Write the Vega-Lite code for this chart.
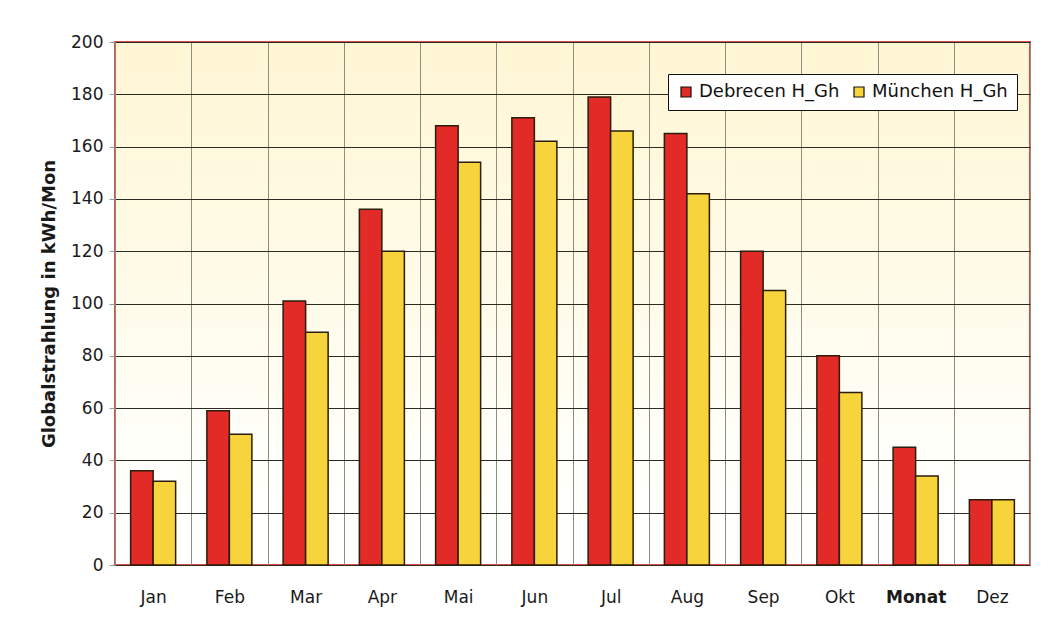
{
  "$schema": "https://vega.github.io/schema/vega-lite/v6.json",
  "width": 915,
  "height": 523,
  "padding": {"top": 33, "left": 40, "right": 8, "bottom": 10},
  "background": "#ffffff",
  "config": {
    "font": "DejaVu Sans",
    "view": {
      "stroke": "#e04a45",
      "strokeWidth": 2,
      "fill": {
        "gradient": "linear",
        "x1": 0, "y1": 0, "x2": 0, "y2": 1,
        "stops": [
          {"offset": 0, "color": "#fff6d4"},
          {"offset": 0.45, "color": "#fffbe8"},
          {"offset": 0.8, "color": "#fffffb"},
          {"offset": 1, "color": "#ffffff"}
        ]
      }
    }
  },
  "data": {
    "values": [
      {"month": "Jan", "series": "Debrecen H_Gh", "value": 36},
      {"month": "Jan", "series": "München H_Gh", "value": 32},
      {"month": "Feb", "series": "Debrecen H_Gh", "value": 59},
      {"month": "Feb", "series": "München H_Gh", "value": 50},
      {"month": "Mar", "series": "Debrecen H_Gh", "value": 101},
      {"month": "Mar", "series": "München H_Gh", "value": 89},
      {"month": "Apr", "series": "Debrecen H_Gh", "value": 136},
      {"month": "Apr", "series": "München H_Gh", "value": 120},
      {"month": "Mai", "series": "Debrecen H_Gh", "value": 168},
      {"month": "Mai", "series": "München H_Gh", "value": 154},
      {"month": "Jun", "series": "Debrecen H_Gh", "value": 171},
      {"month": "Jun", "series": "München H_Gh", "value": 162},
      {"month": "Jul", "series": "Debrecen H_Gh", "value": 179},
      {"month": "Jul", "series": "München H_Gh", "value": 166},
      {"month": "Aug", "series": "Debrecen H_Gh", "value": 165},
      {"month": "Aug", "series": "München H_Gh", "value": 142},
      {"month": "Sep", "series": "Debrecen H_Gh", "value": 120},
      {"month": "Sep", "series": "München H_Gh", "value": 105},
      {"month": "Okt", "series": "Debrecen H_Gh", "value": 80},
      {"month": "Okt", "series": "München H_Gh", "value": 66},
      {"month": "Nov", "series": "Debrecen H_Gh", "value": 45},
      {"month": "Nov", "series": "München H_Gh", "value": 34},
      {"month": "Dez", "series": "Debrecen H_Gh", "value": 25},
      {"month": "Dez", "series": "München H_Gh", "value": 25}
    ]
  },
  "mark": {"type": "bar", "stroke": "#2a1d0c", "strokeWidth": 1.5},
  "encoding": {
    "x": {
      "field": "month",
      "type": "nominal",
      "sort": null,
      "scale": {"paddingInner": 0, "paddingOuter": 0},
      "axis": {
        "title": null,
        "domain": false,
        "ticks": false,
        "tickBand": "extent",
        "grid": true,
        "gridColor": "#8f8f80",
        "gridWidth": 1,
        "labelAngle": 0,
        "labelFontSize": 17,
        "labelColor": "#1a1a1a",
        "labelPadding": 24,
        "labelExpr": "datum.value == 'Nov' ? 'Monat' : datum.value",
        "labelFontWeight": {"condition": {"test": "datum.value == 'Nov'", "value": "bold"}, "value": "normal"}
      }
    },
    "xOffset": {
      "field": "series",
      "type": "nominal",
      "scale": {"paddingInner": 0, "paddingOuter": 0.694}
    },
    "y": {
      "field": "value",
      "type": "quantitative",
      "scale": {"domain": [0, 200], "nice": false},
      "axis": {
        "title": "Globalstrahlung in kWh/Mon",
        "titleFont": "DejaVu Sans",
        "titleFontSize": 18,
        "titleFontWeight": "bold",
        "titleColor": "#1a1a1a",
        "titlePadding": 12,
        "values": [0, 20, 40, 60, 80, 100, 120, 140, 160, 180, 200],
        "labelFontSize": 17,
        "labelColor": "#1a1a1a",
        "labelPadding": 6,
        "domain": false,
        "tickSize": 6,
        "tickColor": "#9a9a9a",
        "grid": true,
        "gridColor": "#2b2b22",
        "gridWidth": 1
      }
    },
    "fill": {
      "field": "series",
      "type": "nominal",
      "scale": {"domain": ["Debrecen H_Gh", "München H_Gh"], "range": ["#e22a26", "#f8d43c"]},
      "legend": {
        "title": null,
        "orient": "none",
        "legendX": 553,
        "legendY": 32,
        "direction": "horizontal",
        "fillColor": "#ffffff",
        "strokeColor": "#111111",
        "padding": 9,
        "symbolType": "square",
        "symbolSize": 100,
        "symbolStrokeColor": "#111111",
        "symbolStrokeWidth": 1.2,
        "labelFontSize": 18,
        "labelColor": "#111111",
        "columnPadding": 10,
        "labelOffset": 4
      }
    }
  }
}
